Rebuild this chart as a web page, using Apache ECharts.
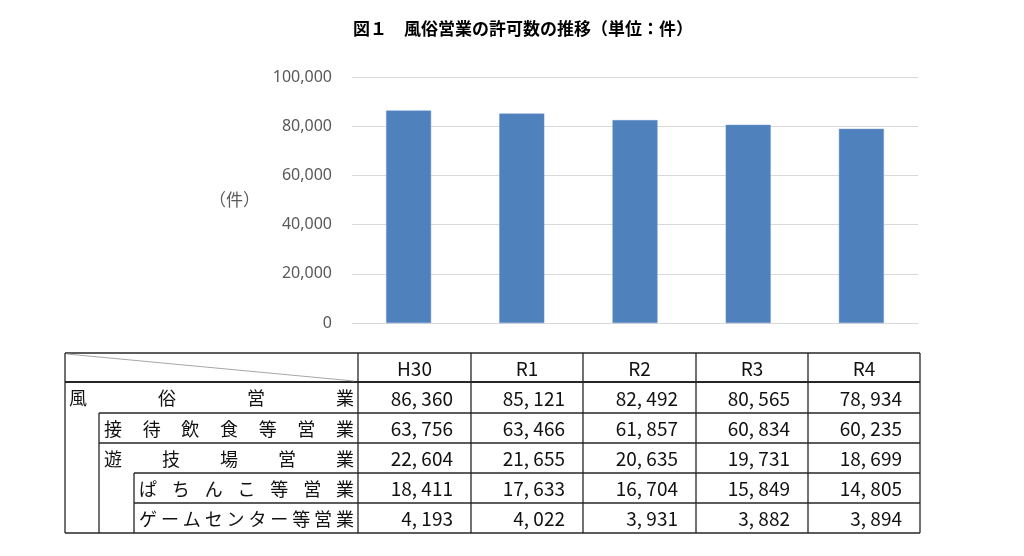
<!DOCTYPE html>
<html>
<head>
<meta charset="utf-8">
<script src="https://cdn.jsdelivr.net/npm/echarts@6/dist/echarts.min.js"></script>
<style>
  html, body { margin: 0; padding: 0; background: #fff; }
  #chart { width: 1024px; height: 556px; }
</style>
</head>
<body>
<div id="chart"></div>
<script>
// data
const years = ['H30', 'R1', 'R2', 'R3', 'R4']
const rowLabels = ['風俗営業', '接待飲食等営業', '遊技場営業', 'ぱちんこ等営業', 'ゲームセンター等営業']
const fuzoku = [86360, 85121, 82492, 80565, 78934]
const settai = [63756, 63466, 61857, 60834, 60235]
const yugi = [22604, 21655, 20635, 19731, 18699]
const pachinko = [18411, 17633, 16704, 15849, 14805]
const game = [4193, 4022, 3931, 3882, 3894]
const yMin = 0
const yMax = 100000
const yStep = 20000

const rows = [fuzoku, settai, yugi, pachinko, game]

// table layout (pixels)
const tLeft = 65
const colX = [358, 471, 583, 696, 808, 920]
const rowY = [353, 382, 413, 443, 473, 503, 533]
const rowIndent = [65, 99, 99, 134, 134]
const labelStart = [78, 113, 113, 148, 148]
const labelEnd = 345
const lineColor = '#262626'
const jp = '"Noto Sans CJK JP", sans-serif'

function fmt(v) {
  return String(v).replace(/\B(?=(\d{3})+(?!\d))/g, ', ')
}

function line(x1, y1, x2, y2, color, w) {
  return {
    type: 'line',
    silent: true,
    z: 10,
    shape: { x1: x1, y1: y1, x2: x2, y2: y2 },
    style: { stroke: color || lineColor, lineWidth: w || 1.3 }
  }
}

function text(str, x, y, align, size) {
  return {
    type: 'text',
    silent: true,
    z: 11,
    x: x,
    y: y,
    style: {
      text: str,
      fill: '#111',
      font: (size || 18) + 'px ' + jp,
      textAlign: align,
      textVerticalAlign: 'middle'
    }
  }
}

const els = []
// outer + grid lines
els.push(line(tLeft, rowY[0], colX[5], rowY[0]))
els.push(line(tLeft, rowY[1], colX[5], rowY[1], lineColor, 1.8))
for (let i = 0; i < rows.length; i++) {
  const y = rowY[i + 2]
  const x0 = i === rows.length - 1 ? tLeft : rowIndent[i + 1]
  els.push(line(x0, y, colX[5], y))
}
els.push(line(tLeft, rowY[0], tLeft, rowY[6]))
els.push(line(rowIndent[1], rowY[2], rowIndent[1], rowY[6]))
els.push(line(rowIndent[3], rowY[4], rowIndent[3], rowY[6]))
colX.forEach(function(x) {
  els.push(line(x, rowY[0], x, rowY[6]))
})
// diagonal in the corner cell
els.push(line(tLeft + 2, rowY[0] + 1, colX[0] - 4, rowY[1] - 1, '#a6a6a6', 1))

// header
years.forEach(function(yr, j) {
  els.push(text(yr, (colX[j] + colX[j + 1]) / 2, (rowY[0] + rowY[1]) / 2 + 1, 'center', 19))
})

// rows
rowLabels.forEach(function(lab, i) {
  const cy = (rowY[i + 1] + rowY[i + 2]) / 2 + 1
  const chars = lab.split('')
  const step = (labelEnd - labelStart[i]) / (chars.length - 1)
  chars.forEach(function(c, k) {
    els.push(text(c, labelStart[i] + step * k, cy, 'center', 18))
  })
  rows[i].forEach(function(v, j) {
    els.push(text(fmt(v), colX[j + 1] - 18, cy, 'right', 19))
  })
})

const chart = echarts.init(document.getElementById('chart'))
chart.setOption({
  animation: false,
  title: {
    text: '図１　風俗営業の許可数の推移（単位：件）',
    left: 518,
    top: 15,
    textAlign: 'center',
    textStyle: {
      fontFamily: jp,
      fontSize: 17,
      fontWeight: 'bold',
      color: '#000'
    }
  },
  grid: {
    left: 352,
    right: 106,
    top: 77,
    bottom: 233,
    containLabel: false
  },
  xAxis: {
    type: 'category',
    data: years,
    axisLabel: { show: false },
    axisTick: { show: false },
    axisLine: { show: false }
  },
  yAxis: {
    type: 'value',
    min: yMin,
    max: yMax,
    interval: yStep,
    name: '（件）',
    nameLocation: 'middle',
    nameRotate: 0,
    nameGap: 92,
    nameTextStyle: {
      fontFamily: jp,
      fontSize: 17,
      color: '#595959'
    },
    axisLabel: {
      margin: 20,
      color: '#595959',
      fontFamily: '"Noto Sans", sans-serif',
      fontSize: 16,
      formatter: function(v) {
        return v.toLocaleString('en-US')
      }
    },
    axisLine: { show: false },
    axisTick: { show: false },
    splitLine: {
      lineStyle: { color: '#d9d9d9', width: 1 }
    }
  },
  series: [
    {
      name: '風俗営業',
      type: 'bar',
      data: fuzoku,
      barWidth: 45,
      itemStyle: {
        color: '#4f81bd',
        borderColor: '#6a95c8',
        borderWidth: 0.5
      }
    }
  ],
  graphic: { elements: els }
})
</script>
</body>
</html>
